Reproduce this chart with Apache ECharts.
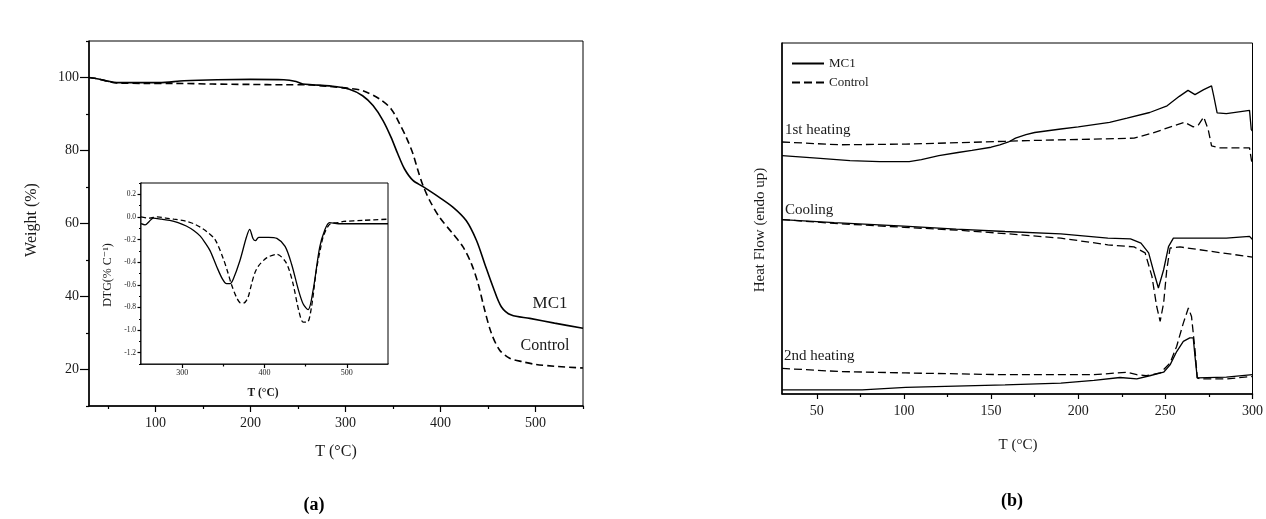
<!DOCTYPE html>
<html>
<head>
<meta charset="utf-8">
<script src="https://cdn.jsdelivr.net/npm/echarts@6/dist/echarts.min.js"></script>
<style>
html,body{margin:0;padding:0;background:#fff;}
#c{width:1266px;height:519px;}
</style>
</head>
<body>
<div id="c"></div>
<script>
// ---------- DATA ----------
// (a) TGA: weight (%) vs T (°C)
var tgaMC1 = [[30,100],[40,99.6],[50,99],[59,98.6],[80,98.6],[104,98.6],[130,99.1],[165,99.4],[200,99.5],[235,99.4],[248,98.9],[255,98.2],[265,98],[283,97.7],[304,96.8],[318,95.0],[329,92.3],[339.5,88.2],[348,83.6],[355,79.1],[362,75.0],[371,71.8],[381.6,70.1],[395.7,67.7],[413,64.5],[427,60.8],[437.8,55.4],[446.5,49.0],[455.3,42.6],[464,37.2],[474.6,34.9],[494,34.0],[520,32.7],[550,31.3]];
var tgaControl = [[30,100],[40,99.6],[50,98.9],[59,98.5],[90,98.4],[120,98.4],[160,98.2],[200,98.1],[235,98.0],[260,98.0],[280,97.6],[304,97.0],[318,96.4],[336,94.1],[348,91.4],[357,87.3],[364,83.6],[371,79.1],[376.3,74.5],[381.6,70.4],[388.6,66.3],[399,61.7],[413,57.2],[423.7,53.6],[432.5,49.0],[439.5,43.6],[446.5,36.3],[453.6,29.9],[462.3,25.3],[472.8,23.1],[486.8,22.1],[500,21.4],[520,20.9],[550,20.4]];
// (a) inset DTG (% °C^-1)
var dtgMC1 = [[250,-0.06],[255,-0.07],[260,-0.04],[265,-0.01],[275,-0.02],[285,-0.03],[295,-0.05],[305,-0.08],[314,-0.12],[322,-0.17],[328,-0.23],[334,-0.30],[342,-0.44],[349,-0.55],[354,-0.59],[358,-0.59],[362,-0.55],[370,-0.39],[378,-0.18],[382,-0.11],[386,-0.19],[389,-0.21],[393,-0.18],[405,-0.18],[415,-0.19],[425,-0.26],[433,-0.42],[441,-0.64],[447,-0.77],[453,-0.82],[459,-0.65],[467,-0.27],[473,-0.12],[479,-0.05],[490,-0.06],[520,-0.06],[550,-0.06]];
var dtgControl = [[250,0.0],[260,-0.01],[270,0.0],[280,-0.01],[290,-0.02],[300,-0.03],[306,-0.04],[314,-0.06],[322,-0.09],[330,-0.13],[340,-0.2],[350,-0.37],[355,-0.48],[360,-0.6],[366,-0.71],[371,-0.76],[375,-0.76],[380,-0.71],[384,-0.6],[388,-0.5],[393,-0.43],[403,-0.36],[415,-0.33],[425,-0.39],[430,-0.47],[435,-0.6],[442,-0.84],[447,-0.93],[452,-0.93],[457,-0.8],[463,-0.47],[468,-0.28],[472,-0.16],[480,-0.06],[490,-0.05],[496,-0.04],[520,-0.03],[550,-0.02]];
// (b) DSC heat flow (arbitrary units, endo up)
var heat1MC1 = [[30,67.9],[50,67.2],[69,66.5],[86,66.2],[103,66.2],[110,66.75],[120,67.9],[131,68.8],[139,69.4],[150,70.3],[155,71],[160,71.8],[164,72.9],[170,73.9],[175,74.5],[190,75.5],[200,76.1],[218,77.4],[228,78.6],[241,80.2],[251,82.1],[258,84.8],[263,86.5],[267,85.3],[272,86.7],[276.5,87.8],[277.8,84.8],[279.7,80.1],[285,79.9],[298.3,80.8],[299.3,75.3],[300,74.9]];
var heat1Control = [[30,71.8],[63,71.0],[101,71.2],[139,71.7],[158,72],[171,72.2],[209,72.6],[232,72.9],[243,74.4],[253,76.1],[261,77.4],[266,76.1],[269,76.7],[272,78.9],[274.6,75.3],[276.5,70.7],[281,70.1],[298.3,70.1],[299.5,66.3],[300,65.5]];
var coolMC1 = [[30,49.7],[60,48.8],[100,47.8],[130,47],[158,46.3],[190,45.6],[217,44.4],[230,44.2],[236,43.0],[240.4,40.2],[243,35.4],[246,30.2],[249,35.4],[251.8,42],[254.6,44.4],[285,44.4],[298.3,44.9],[300,44.0]];
var coolControl = [[30,49.7],[60,48.6],[100,47.5],[130,46.7],[158,45.7],[190,44.4],[217,42.5],[232,41.9],[238.4,40.2],[242.3,33.5],[245,25],[247,20.7],[249,25.9],[250.8,35.4],[252.7,41.6],[258.4,41.9],[281,40.3],[300,39.0]];
var heat2MC1 = [[30,1.2],[76,1.2],[101,1.9],[158,2.6],[190,3.1],[209,3.9],[224,4.7],[233.6,4.3],[241,5.2],[249,6.2],[252.7,8.3],[256.5,12.1],[260.3,15],[264,16],[266,16],[267,10.7],[268.3,4.6],[285,4.8],[300,5.5]];
var heat2Control = [[30,7.3],[63,6.4],[101,6.0],[158,5.5],[209,5.5],[228,6.2],[233.6,5.5],[239,5.2],[247,6.0],[252.7,8.8],[256.5,13.6],[260.3,20.2],[263.2,24.5],[265,22.1],[267,12.6],[268.3,4.6],[270,4.3],[285,4.3],[300,5.0]];

// tick values
var tgaXLabels = [100,200,300,400,500];
var tgaXMinor = [50,150,250,350,450,550];
var tgaYLabels = [20,40,60,80,100];
var tgaYMinor = [10,30,50,70,90,110];
var dtgXLabels = [300,400,500];
var dtgXMinor = [350,450];
var dtgYLabels = [-1.2,-1.0,-0.8,-0.6,-0.4,-0.2,0,0.2];
var dtgYMinor = [-1.3,-1.1,-0.9,-0.7,-0.5,-0.3,-0.1,0.1,0.3];
var dscXLabels = [50,100,150,200,250,300];
var dscXMinor = [75,125,175,225,275];

// ---------- CHART ----------
var FONT = '"Liberation Serif", "DejaVu Serif", serif';
var INK = '#1a1a1a';
var chart = echarts.init(document.getElementById('c'), null, {renderer:'canvas'});

function xAx(grid, min, max, ticks, labels, tickLen, fs, margin, showLine) {
  return {
    type:'value', gridIndex:grid, min:min, max:max, position:'bottom',
    axisLine:{show:showLine, onZero:false, lineStyle:{color:'#000', width:1.5}},
    axisTick:{show:true, customValues:ticks, length:tickLen, lineStyle:{color:'#000', width:1.2}},
    axisLabel:labels ? {show:true, customValues:labels, fontSize:fs, fontFamily:FONT, color:INK, margin:margin} : {show:false},
    splitLine:{show:false}
  };
}
function yAx(grid, min, max, ticks, labels, tickLen, fs, margin, showLine, fmt) {
  var ax = {
    type:'value', gridIndex:grid, min:min, max:max, position:'left',
    axisLine:{show:showLine, onZero:false, lineStyle:{color:'#000', width:1.5}},
    axisTick:ticks ? {show:true, customValues:ticks, length:tickLen, lineStyle:{color:'#000', width:1.2}} : {show:false},
    axisLabel:labels ? {show:true, customValues:labels, fontSize:fs, fontFamily:FONT, color:INK, margin:margin} : {show:false},
    splitLine:{show:false}
  };
  if (labels && fmt) ax.axisLabel.formatter = fmt;
  return ax;
}

function line(name, data, xi, yi, dashed, w, dash, smooth) {
  return {
    name:name, type:'line', data:data, xAxisIndex:xi, yAxisIndex:yi,
    symbol:'none', showSymbol:false, smooth:smooth,
    lineStyle:{color:'#000', width:w, type: dashed ? dash : 'solid'},
    itemStyle:{color:'#000'}, animation:false, clip:true, z:3
  };
}

var option = {
  backgroundColor:'#fff',
  animation:false,
  grid:[
    {left:89, top:41, width:494, height:365, show:true, borderColor:'#000', borderWidth:1, backgroundColor:'#fff', z:0},
    {left:141, top:183, width:247, height:181, show:true, borderColor:'#000', borderWidth:1, backgroundColor:'#fff', z:5},
    {left:782, top:43, width:474, height:351, show:true, borderColor:'#000', borderWidth:1, backgroundColor:'#fff', z:0}
  ],
  xAxis:[
    xAx(0,30,550,tgaXLabels,tgaXLabels,6,14,10,true),
    xAx(0,30,550,tgaXMinor,null,3,14,10,false),
    xAx(1,250,550,dtgXLabels,dtgXLabels,4,8,5,true),
    xAx(1,250,550,dtgXMinor,null,2.5,8,5,false),
    xAx(2,30,300,dscXLabels,dscXLabels,5,14,10,true),
    xAx(2,30,300,dscXMinor,null,3,14,10,false)
  ],
  yAxis:[
    yAx(0,10,110,tgaYLabels,tgaYLabels,9,14,10,true),
    yAx(0,10,110,tgaYMinor,null,3,14,10,false),
    yAx(1,-1.3,0.3,dtgYLabels,dtgYLabels,3.5,7.5,5,true,function(v){return v.toFixed(1);}),
    yAx(1,-1.3,0.3,dtgYMinor,null,2,7.5,5,false),
    yAx(2,0,100,null,null,0,14,10,true)
  ],
  legend:{
    data:['MC1','Control'], orient:'vertical', left:786, top:52,
    itemWidth:32, itemHeight:12, itemGap:6, selectedMode:false,
    itemStyle:{opacity:0},
    textStyle:{fontSize:13, fontFamily:FONT, color:INK}
  },
  series:[
    line('MC1', heat1MC1, 4, 4, false, 1.3, null, false),
    line('Control', heat1Control, 4, 4, true, 1.3, [8,4], false),
    line('MC1', coolMC1, 4, 4, false, 1.3, null, false),
    line('Control', coolControl, 4, 4, true, 1.3, [8,4], false),
    line('MC1', heat2MC1, 4, 4, false, 1.3, null, false),
    line('Control', heat2Control, 4, 4, true, 1.3, [8,4], false),
    line('MC1', tgaMC1, 0, 0, false, 1.6, null, 0.3),
    line('Control', tgaControl, 0, 0, true, 1.6, [7,4], 0.3),
    Object.assign(line('MC1', dtgMC1, 2, 2, false, 1.3, null, 0.3), {z:6}),
    Object.assign(line('Control', dtgControl, 2, 2, true, 1.3, [5,3], 0.3), {z:6})
  ],
  graphic:[
    {type:'text', x:32, y:220, rotation:Math.PI/2, style:{text:'Weight (%)', font:'16px '+FONT, fill:INK, textAlign:'center', textVerticalAlign:'middle'}},
    {type:'text', x:336, y:452, style:{text:'T (°C)', font:'16px '+FONT, fill:INK, textAlign:'center', textVerticalAlign:'middle'}},
    {type:'text', x:550, y:304, style:{text:'MC1', font:'17px '+FONT, fill:INK, textAlign:'center', textVerticalAlign:'middle'}},
    {type:'text', x:545, y:346, style:{text:'Control', font:'16px '+FONT, fill:INK, textAlign:'center', textVerticalAlign:'middle'}},
    {type:'text', x:108, y:275, rotation:Math.PI/2, z:10, style:{text:'DTG(% C⁻¹)', font:'12px '+FONT, fill:INK, textAlign:'center', textVerticalAlign:'middle'}},
    {type:'text', x:263, y:393, z:10, style:{text:'T (°C)', font:'bold 11.5px '+FONT, fill:INK, textAlign:'center', textVerticalAlign:'middle'}},
    {type:'text', x:760, y:230, rotation:Math.PI/2, style:{text:'Heat Flow (endo up)', font:'15px '+FONT, fill:INK, textAlign:'center', textVerticalAlign:'middle'}},
    {type:'text', x:1018, y:445, style:{text:'T (°C)', font:'15px '+FONT, fill:INK, textAlign:'center', textVerticalAlign:'middle'}},
    {type:'text', x:785, y:130, z:10, style:{text:'1st heating', font:'15px '+FONT, fill:INK, textAlign:'left', textVerticalAlign:'middle'}},
    {type:'text', x:785, y:210, z:10, style:{text:'Cooling', font:'15px '+FONT, fill:INK, textAlign:'left', textVerticalAlign:'middle'}},
    {type:'text', x:784, y:356, z:10, style:{text:'2nd heating', font:'15px '+FONT, fill:INK, textAlign:'left', textVerticalAlign:'middle'}},
    {type:'text', x:314, y:505, style:{text:'(a)', font:'bold 18px '+FONT, fill:'#000', textAlign:'center', textVerticalAlign:'middle'}},
    {type:'text', x:1012, y:501, style:{text:'(b)', font:'bold 18px '+FONT, fill:'#000', textAlign:'center', textVerticalAlign:'middle'}}
  ]
};
chart.setOption(option);
</script>
</body>
</html>
